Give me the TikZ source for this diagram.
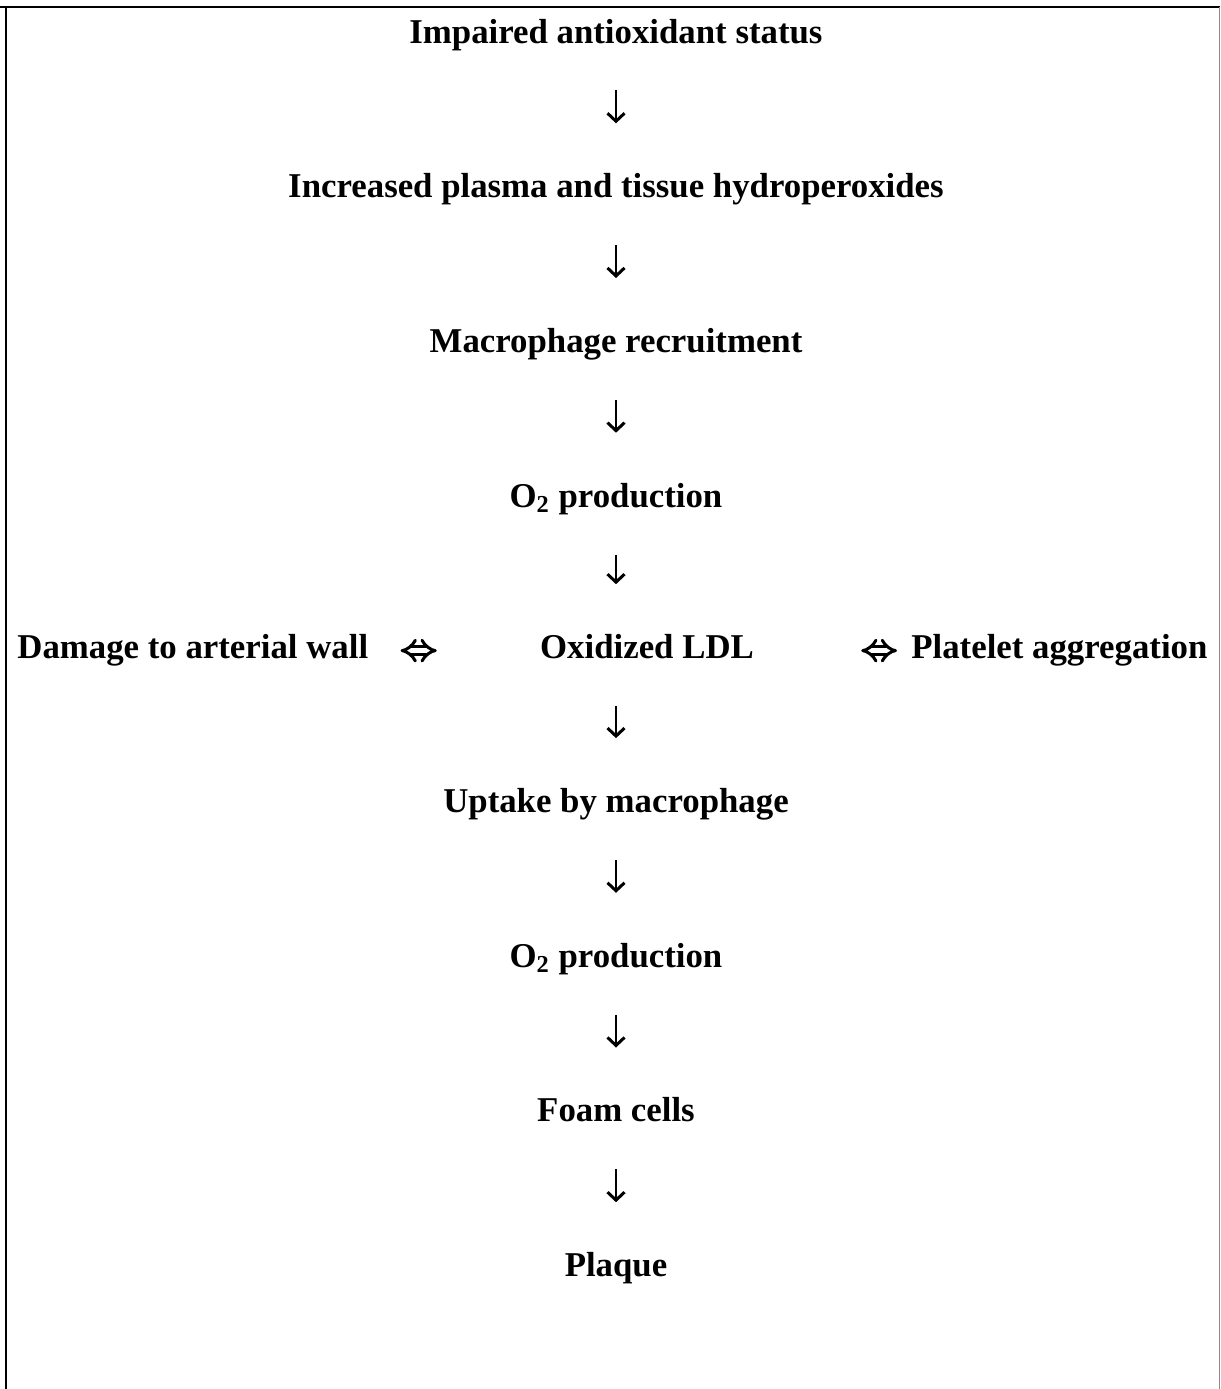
\documentclass[tikz,border=0pt]{standalone}
\usepackage{fontspec}
\setmainfont{Liberation Serif}
\usetikzlibrary{positioning,arrows.meta,calc}

\begin{document}
\begin{tikzpicture}[
  x=0.5pt,y=-0.5pt,
  font=\fontsize{17.4}{20}\selectfont\bfseries,
  lbl/.style={inner sep=0pt,text height=12pt,text depth=4pt},
  down/.style={-{Straight Barb[length=4pt,width=8.5pt,line width=1.5pt]},line width=1.4pt,shorten <=19.5pt,shorten >=25pt},
  both/.style={{Implies}-{Implies},double,double distance=2.4pt,line width=1.5pt}
]
\useasboundingbox (0,0) rectangle (1221,1389);
% frame
\draw[line width=1.3pt] (0,7) -- (1220,7);
\draw[line width=1.3pt] (6,7) -- (6,1389);
\draw[line width=0.5pt,black!45] (1219,7) -- (1219,1389);
% main chain
\node[lbl,anchor=base] (imp) at (616,43) {Impaired antioxidant status};
\node[lbl,below=60.95pt of imp] (inc) {Increased plasma and tissue hydroperoxides};
\node[lbl,below=60.95pt of inc] (mac) {Macrophage recruitment};
\node[lbl,below=60.95pt of mac] (oxa) {O\textsubscript{2} production};
% middle row
\node[lbl,anchor=base] (ldl) at (647,658.6) {Oxidized LDL};
\node[lbl,anchor=base west] (dmg) at (17,658.6) {Damage to arterial wall};
\node[lbl,anchor=base west] (plt) at (911,658.6) {Platelet aggregation};
% lower chain
\node[lbl,anchor=base] (upt) at (616,812.5) {Uptake by macrophage};
\node[lbl,below=60.95pt of upt] (oxb) {O\textsubscript{2} production};
\node[lbl,below=60.95pt of oxb] (foam) {Foam cells};
\node[lbl,below=60.95pt of foam] (plq) {Plaque};
% arrows down
\draw[down] (imp.south) -- (inc.north);
\draw[down] (inc.south) -- (mac.north);
\draw[down] (mac.south) -- (oxa.north);
\draw[down] (oxa.south) -- (oxa.south |- ldl.north);
\draw[down] (ldl.south -| upt.north) -- (upt.north);
\draw[down] (upt.south) -- (oxb.north);
\draw[down] (oxb.south) -- (foam.north);
\draw[down] (foam.south) -- (plq.north);
% two-way links
\draw[both,shorten <=16pt,shorten >=51.5pt] (dmg.east) -- (ldl.west);
\draw[both,shorten <=53.5pt,shorten >=7pt] (ldl.east) -- (plt.west);
\end{tikzpicture}
\end{document}
